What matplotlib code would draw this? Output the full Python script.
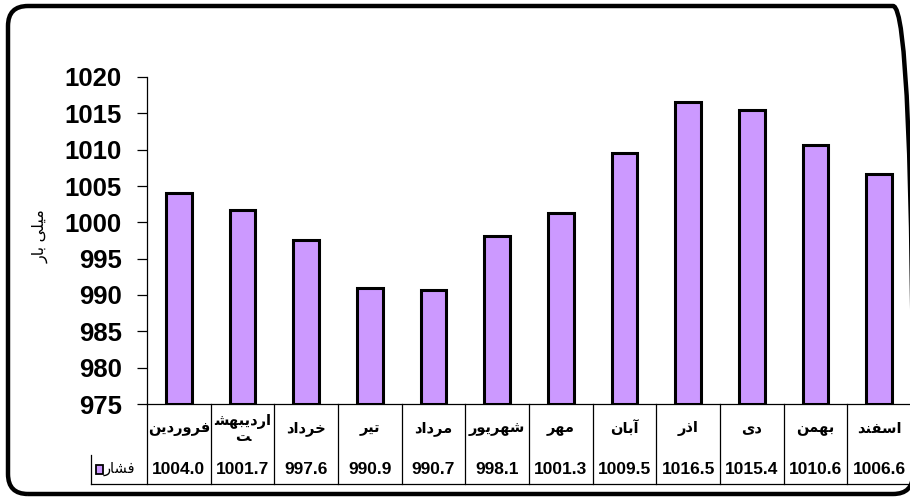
import matplotlib
matplotlib.use("Agg")
import matplotlib.pyplot as plt
from matplotlib.patches import FancyBboxPatch, Rectangle
from matplotlib.transforms import blended_transform_factory

# ---------------- data ----------------
months = ["فروردین", "اردیبهشت", "خرداد", "تیر", "مرداد", "شهریور",
          "مهر", "آبان", "اذر", "دی", "بهمن", "اسفند"]
pressure = [1004.0, 1001.7, 997.6, 990.9, 990.7, 998.1,
            1001.3, 1009.5, 1016.5, 1015.4, 1010.6, 1006.6]
series_name = "فشار"
y_label = "میلی بار"
y_ticks = [975, 980, 985, 990, 995, 1000, 1005, 1010, 1015, 1020]

# ---------- simple Arabic/Persian shaping (presentation forms) ----------
FORMS = {
    'ا': ('\uFE8D', '\uFE8E', None, None),
    'آ': ('\uFE81', '\uFE82', None, None),
    'ب': ('\uFE8F', '\uFE90', '\uFE91', '\uFE92'),
    'ت': ('\uFE95', '\uFE96', '\uFE97', '\uFE98'),
    'خ': ('\uFEA5', '\uFEA6', '\uFEA7', '\uFEA8'),
    'د': ('\uFEA9', '\uFEAA', None, None),
    'ذ': ('\uFEAB', '\uFEAC', None, None),
    'ر': ('\uFEAD', '\uFEAE', None, None),
    'ز': ('\uFEAF', '\uFEB0', None, None),
    'س': ('\uFEB1', '\uFEB2', '\uFEB3', '\uFEB4'),
    'ش': ('\uFEB5', '\uFEB6', '\uFEB7', '\uFEB8'),
    'ف': ('\uFED1', '\uFED2', '\uFED3', '\uFED4'),
    'ل': ('\uFEDD', '\uFEDE', '\uFEDF', '\uFEE0'),
    'م': ('\uFEE1', '\uFEE2', '\uFEE3', '\uFEE4'),
    'ن': ('\uFEE5', '\uFEE6', '\uFEE7', '\uFEE8'),
    'ه': ('\uFEE9', '\uFEEA', '\uFEEB', '\uFEEC'),
    'و': ('\uFEED', '\uFEEE', None, None),
    'ی': ('\uFEEF', '\uFEF0', '\uFEF3', '\uFEF4'),
}


def shape(text):
    out = []
    n = len(text)
    for i, c in enumerate(text):
        if c not in FORMS:
            out.append(c)
            continue
        f = FORMS[c]
        prev = text[i - 1] if i > 0 else None
        nxt = text[i + 1] if i < n - 1 else None
        jp = prev in FORMS and FORMS[prev][2] is not None
        jn = nxt in FORMS and f[2] is not None
        if jp and jn:
            g = f[3]
        elif jp:
            g = f[1]
        elif jn:
            g = f[2]
        else:
            g = f[0]
        out.append(g)
    return ''.join(out)[::-1]


def label_text(word):
    vis = shape(word)
    if len(word) > 7:
        return vis[1:] + "\n" + vis[0]
    return vis


FAM = ['Liberation Sans', 'DejaVu Sans']
plt.rcParams['font.family'] = FAM

W, H, DPI = 910, 499, 100
fig = plt.figure(figsize=(W / DPI, H / DPI), dpi=DPI)
fig.patch.set_facecolor('white')

left_px, right_px, top_px, bot_px = 147, 911, 77, 404
ax = fig.add_axes([left_px / W, 1 - bot_px / H,
                   (right_px - left_px) / W, (bot_px - top_px) / H])

x = list(range(len(months)))
ax.bar(x, [p - y_ticks[0] for p in pressure], bottom=y_ticks[0], width=0.4,
       color='#CC99FF', edgecolor='black', linewidth=2.2, zorder=3)

ax.set_xlim(-0.5, len(months) - 0.5)
ax.set_ylim(y_ticks[0], y_ticks[-1])
ax.set_yticks(y_ticks)
ax.set_yticklabels([str(t) for t in y_ticks], fontsize=18.5, fontweight='bold')
ax.tick_params(axis='y', length=7, width=0.9, pad=11, direction='out')
ax.set_xticks([])
for s in ['top', 'right']:
    ax.spines[s].set_visible(False)
ax.spines['left'].set_linewidth(0.9)
ax.spines['bottom'].set_linewidth(0.9)

# y label
ax.text(-0.139, 0.514, shape(y_label), transform=ax.transAxes, rotation=90,
        ha='center', va='center', fontsize=11.5, family=FAM)

# ---------------- data table ----------------
tr = blended_transform_factory(ax.transData, ax.transAxes)
ax_h = bot_px - top_px
col_w = (right_px - left_px) / len(months)


def ay(py):
    return -(py - bot_px) / ax_h


def dx(px):
    return -0.5 + (px - left_px) / col_w


row1_bot = ay(455)
row2_bot = ay(484)
for k in range(len(months) + 1):
    ax.plot([k - 0.5, k - 0.5], [0, row2_bot], color='black', lw=0.9,
            transform=tr, clip_on=False)
ax.plot([dx(91), len(months) - 0.5], [row2_bot, row2_bot], color='black',
        lw=0.9, transform=tr, clip_on=False)
ax.plot([dx(91), dx(91)], [row1_bot, row2_bot], color='black', lw=0.9,
        transform=tr, clip_on=False)

for i, (m, p) in enumerate(zip(months, pressure)):
    ax.text(i, ay(429), label_text(m), transform=tr, ha='center', va='center',
            fontsize=10.5, fontweight='bold', family=FAM, linespacing=1.05)
    ax.text(i, ay(470), f"{p:.1f}", transform=tr, ha='center', va='center',
            fontsize=12.5, fontweight='bold', family=FAM)

# legend key in table
ax.add_patch(Rectangle((dx(96), ay(474)), 7 / col_w, 9 / ax_h, transform=tr,
                       facecolor='#CC99FF', edgecolor='black', lw=1.3,
                       clip_on=False))
ax.text(dx(104), ay(469), shape(series_name), transform=tr, ha='left',
        va='center', fontsize=10.5, family=FAM)

# rounded outer frame (right side runs off the image as in the reference)
frame = FancyBboxPatch((8 / DPI, (H - 494) / DPI), (913 - 8) / DPI,
                       (494 - 6) / DPI,
                       boxstyle="round,pad=0,rounding_size=0.2",
                       transform=fig.dpi_scale_trans, fill=False,
                       edgecolor='black', linewidth=3.2)
fig.add_artist(frame)

fig.savefig('out.png', dpi=DPI)
